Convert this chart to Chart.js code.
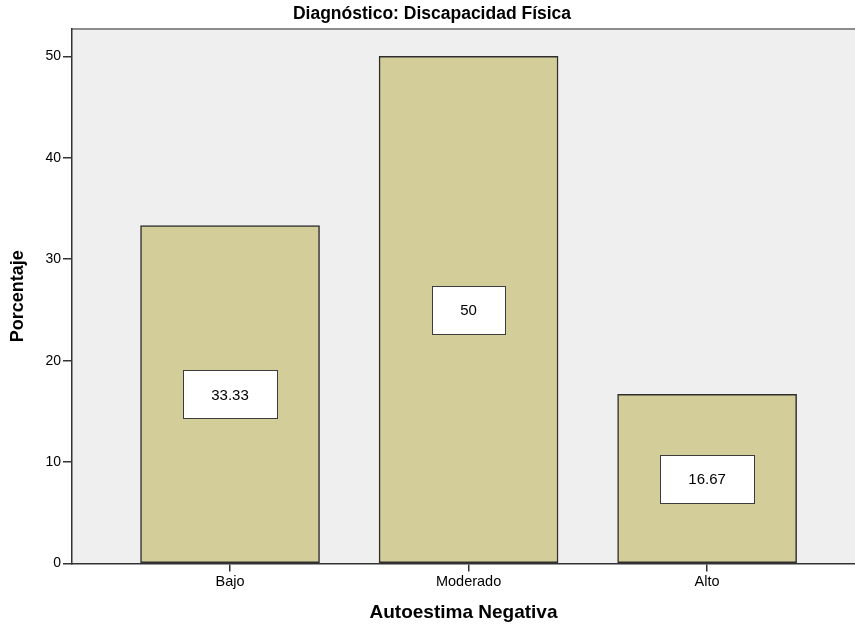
<!DOCTYPE html>
<html>
<head>
<meta charset="utf-8">
<script src="https://cdn.jsdelivr.net/npm/chart.js@4/dist/chart.umd.min.js"></script>
<style>
html,body{margin:0;padding:0;background:#fff;overflow:hidden;}
canvas{display:block;}
</style>
</head>
<body>
<canvas id="c" width="855" height="626"></canvas>
<script>
const categories = ['Bajo', 'Moderado', 'Alto'];
const values = [33.33, 50, 16.67];
const valueLabels = ['33.33', '50', '16.67'];
const yTickValues = [0, 10, 20, 30, 40, 50];

const FONT = '"Liberation Sans", Arial, sans-serif';

const plotBg = {
  id: 'plotBg',
  beforeDraw(chart) {
    const {ctx, chartArea: a} = chart;
    ctx.save();
    ctx.fillStyle = '#efefef';
    ctx.fillRect(a.left, a.top, a.right - a.left, a.bottom - a.top);
    ctx.strokeStyle = '#8c8c8c';
    ctx.lineWidth = 2;
    ctx.beginPath();
    ctx.moveTo(a.left, a.top);
    ctx.lineTo(a.right, a.top);
    ctx.stroke();
    ctx.restore();
  }
};

const boxLabels = {
  id: 'boxLabels',
  afterDatasetsDraw(chart) {
    const {ctx} = chart;
    const meta = chart.getDatasetMeta(0);
    const ys = chart.scales.y;
    ctx.save();
    ctx.font = '15px ' + FONT;
    ctx.textAlign = 'center';
    ctx.textBaseline = 'middle';
    meta.data.forEach((bar, i) => {
      const txt = valueLabels[i];
      const cx = bar.x;
      const cy = ys.getPixelForValue(values[i] / 2);
      const w = Math.round(ctx.measureText(txt).width + 56);
      const h = 48;
      const x0 = Math.round(cx - w / 2) + 0.5;
      const y0 = Math.round(cy - h / 2) + 0.5;
      ctx.fillStyle = '#ffffff';
      ctx.fillRect(x0, y0, w, h);
      ctx.strokeStyle = '#3c3c3c';
      ctx.lineWidth = 1;
      ctx.strokeRect(x0, y0, w, h);
      ctx.fillStyle = '#000000';
      ctx.fillText(txt, cx, cy + 1);
    });
    ctx.restore();
  }
};

new Chart(document.getElementById('c'), {
  type: 'bar',
  data: {
    datasets: [{
      data: categories.map((c, i) => ({x: i, y: values[i]})),
      backgroundColor: '#d3ce99',
      borderColor: '#2e2e2e',
      borderWidth: 1.5,
      barThickness: 179,
      borderSkipped: false
    }]
  },
  plugins: [plotBg, boxLabels],
  options: {
    responsive: false,
    devicePixelRatio: 1,
    animation: false,
    layout: {padding: {left: 9, right: 0, top: 0, bottom: 0}},
    plugins: {
      legend: {display: false},
      tooltip: {enabled: false},
      title: {
        display: true,
        text: 'Diagnóstico: Discapacidad Física',
        color: '#000',
        font: {family: FONT, size: 17.5, weight: 'bold', lineHeight: 1.2},
        padding: {top: 4, bottom: 4}
      }
    },
    scales: {
      x: {
        type: 'linear',
        offset: false,
        min: -0.6625,
        max: 2.62,
        afterBuildTicks(scale) {
          scale.ticks = categories.map((c, i) => ({value: i}));
        },
        afterFit(scale) { scale.height = 62.5; },
        ticks: {
          callback: (v) => categories[v],
          color: '#000',
          font: {family: FONT, size: 14.5},
          padding: 2,
          maxRotation: 0,
          autoSkip: false
        },
        grid: {display: true, offset: false, drawOnChartArea: false, drawTicks: true, tickLength: 8, color: '#333', lineWidth: 1.5},
        border: {display: true, color: '#333', width: 1.5},
        title: {
          display: true,
          text: 'Autoestima Negativa',
          color: '#000',
          font: {family: FONT, size: 19, weight: 'bold', lineHeight: 1.2},
          padding: {top: 0, bottom: 2}
        }
      },
      y: {
        min: 0,
        max: 52.7,
        afterBuildTicks(scale) {
          scale.ticks = yTickValues.map(v => ({value: v}));
        },
        afterFit(scale) { scale.width = 63; },
        ticks: {
          color: '#000',
          font: {family: FONT, size: 14},
          padding: 2
        },
        grid: {display: true, drawOnChartArea: false, drawTicks: true, tickLength: 9, color: '#333', lineWidth: 1.5},
        border: {display: true, color: '#333', width: 1.5},
        title: {
          display: true,
          text: 'Porcentaje',
          color: '#000',
          font: {family: FONT, size: 18, weight: 'bold', lineHeight: 1},
          padding: {top: 0, bottom: 0}
        }
      }
    }
  }
});
</script>
</body>
</html>
